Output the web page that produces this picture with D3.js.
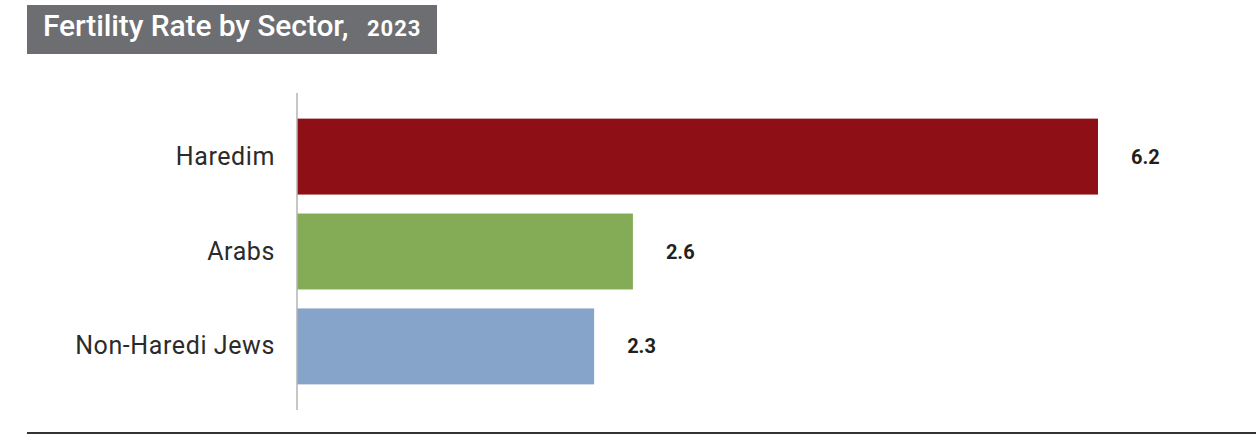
<!DOCTYPE html>
<html>
<head>
<meta charset="utf-8">
<script src="https://cdn.jsdelivr.net/npm/d3@7"></script>
<style>
  html, body { margin: 0; padding: 0; background: #fff; }
  svg { display: block; font-family: Roboto, "DejaVu Sans", sans-serif; }
</style>
</head>
<body>
<svg id="chart" width="1256" height="435"></svg>
<script>
// Total fertility rate by population sector, 2023
const sectors = ["Haredim", "Arabs", "Non-Haredi Jews"];
const fertility = [6.2, 2.6, 2.3];
const barColors = ["#8e1016", "#84ab55", "#86a4c9"];

const svg = d3.select("#chart");
const W = 1256, H = 435;

// Title banner
const title = svg.append("g");
title.append("rect")
  .attr("x", 27).attr("y", 5).attr("width", 410).attr("height", 49)
  .attr("fill", "#6d6e71");
title.append("text")
  .attr("x", 43).attr("y", 36)
  .attr("fill", "#fff").attr("font-weight", 500)
  .attr("font-size", 30).attr("letter-spacing", -0.1)
  .text("Fertility Rate by Sector,");
title.append("text")
  .attr("x", 367).attr("y", 36)
  .attr("fill", "#fff").attr("font-weight", 700)
  .attr("font-size", 22).attr("letter-spacing", 1)
  .text("2023");

// Plot area
const plot = { left: 297, right: 1098, top: 93, bottom: 410 };

const x = d3.scaleLinear().domain([0, 6.2]).range([plot.left, plot.right]);
const y = d3.scaleBand().domain(sectors).range([plot.top, plot.bottom])
  .paddingInner(0.2).paddingOuter(0.27);

const data = sectors.map((s, i) => ({ sector: s, value: fertility[i], color: barColors[i] }));

svg.append("g").selectAll("rect").data(data).join("rect")
  .attr("x", x(0))
  .attr("y", d => y(d.sector))
  .attr("width", d => x(d.value) - x(0))
  .attr("height", y.bandwidth())
  .attr("fill", d => d.color);

// Value labels
svg.append("g").selectAll("text").data(data).join("text")
  .attr("x", d => x(d.value) + 33)
  .attr("y", d => y(d.sector) + y.bandwidth() / 2)
  .attr("dy", "0.35em")
  .attr("font-size", 20).attr("font-weight", 700)
  .attr("fill", "#231f20")
  .text(d => d3.format(".1f")(d.value));

// Category axis
const yAxis = d3.axisLeft(y).tickSize(0).tickPadding(22);
const ag = svg.append("g").attr("transform", `translate(${plot.left},0)`).call(yAxis);
ag.select(".domain").remove();
ag.selectAll("text")
  .attr("font-size", 25).attr("font-family", "Roboto, sans-serif")
  .attr("letter-spacing", 0.6)
  .attr("fill", "#2b2b2b");

svg.append("line")
  .attr("x1", plot.left).attr("x2", plot.left)
  .attr("y1", plot.top).attr("y2", plot.bottom)
  .attr("stroke", "#b3b3b3").attr("stroke-width", 1.5);

// Bottom rule
svg.append("line")
  .attr("x1", 27).attr("x2", W)
  .attr("y1", 433).attr("y2", 433)
  .attr("stroke", "#333").attr("stroke-width", 2);
</script>
</body>
</html>
